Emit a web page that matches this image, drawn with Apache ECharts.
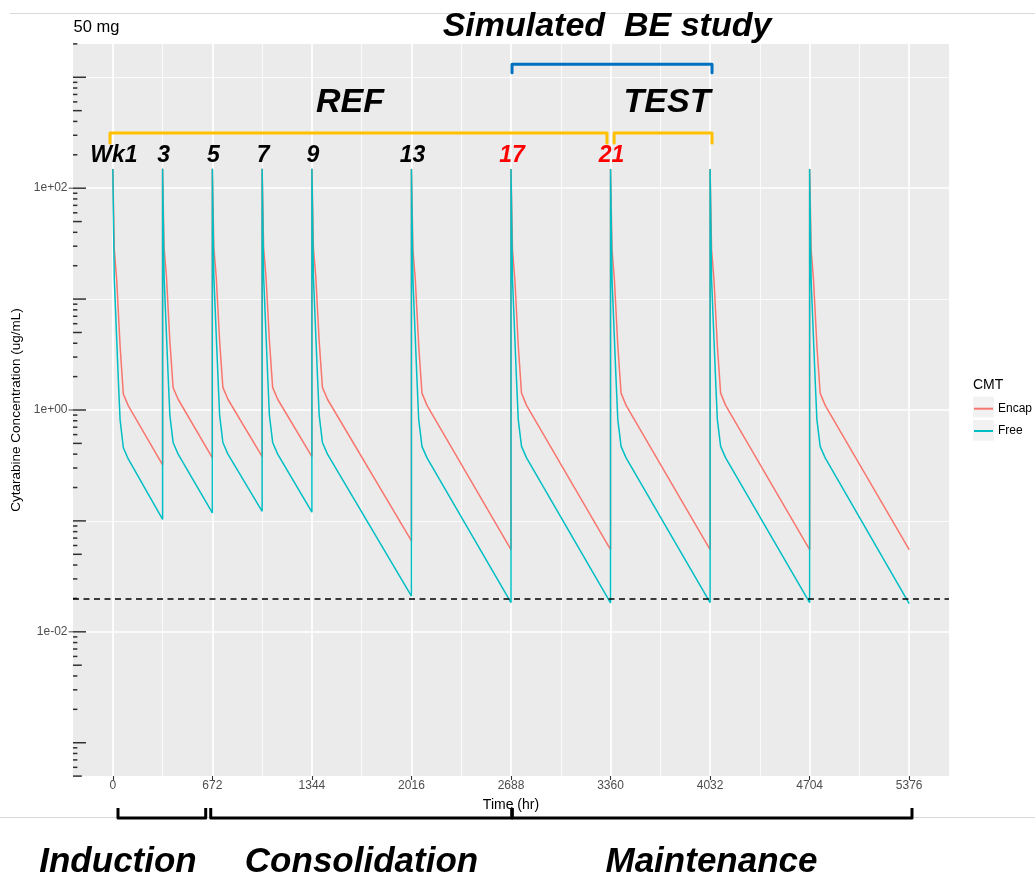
<!DOCTYPE html>
<html><head><meta charset="utf-8">
<script src="https://cdn.jsdelivr.net/npm/echarts@6/dist/echarts.min.js"></script>
<style>html,body{margin:0;padding:0;background:#fff}#c{width:1035px;height:879px}</style>
</head><body><div id="c"></div>
<script>
const FONT = '"Liberation Sans", Arial, Helvetica, sans-serif';

// ---- axes / ticks ----
const xTickLabels = [0, 672, 1344, 2016, 2688, 3360, 4032, 4704, 5376];
const xMinorGrid = [336, 1008, 1680, 2352, 3024, 3696, 4368, 5040];
const xMin = -268.8, xMax = 5644.8;
const yMajorGrid = [0.01, 1, 100];
const yMinorGrid = [0.001, 0.1, 10, 1000];
const logTickDecades = [0.0001, 0.001, 0.01, 0.1, 1, 10, 100, 1000];
const logTickLong = [1];
const logTickMid = [5];
const logTickShort = [2, 3, 4, 6, 7, 8, 9];
const lloq = 0.02;

// ---- week labels (dose times, hr) ----
const weekLabels = ['Wk1', '3', '5', '7', '9', '13', '17', '21'];
const weekTimes = [0, 336, 672, 1008, 1344, 2016, 2688, 3360];
const weekColors = ['#000', '#000', '#000', '#000', '#000', '#000', '#FF0000', '#FF0000'];

// ---- series: Encap ----
const encapTime = [
  0, 10, 26, 49, 71, 105, 336,
  336, 346, 362, 385, 407, 441, 672,
  672, 682, 698, 721, 743, 777, 1008,
  1008, 1018, 1034, 1057, 1079, 1113, 1344,
  1344, 1354, 1370, 1393, 1415, 1449, 2016,
  2016, 2026, 2042, 2065, 2087, 2121, 2688,
  2688, 2698, 2714, 2737, 2759, 2793, 3360,
  3360, 3370, 3386, 3409, 3431, 3465, 4032,
  4032, 4042, 4058, 4081, 4103, 4137, 4704,
  4704, 4714, 4730, 4753, 4775, 4809, 5376];
const encapConc = [
  149, 28, 15, 3.8, 1.39, 1.09, 0.32,
  150, 29, 16, 4.2, 1.59, 1.25, 0.37,
  150, 29, 16, 4.2, 1.6, 1.25, 0.38,
  150, 29, 16, 4.2, 1.6, 1.25, 0.38,
  150, 29, 16, 4.2, 1.6, 1.25, 0.066,
  149, 28, 15, 3.8, 1.42, 1.1, 0.055,
  149, 28, 15, 3.8, 1.42, 1.1, 0.055,
  149, 28, 15, 3.8, 1.42, 1.1, 0.055,
  149, 28, 15, 3.8, 1.42, 1.1, 0.055,
  149, 28, 15, 3.8, 1.42, 1.1, 0.055];

// ---- series: Free ----
const freeTime = [
  0, 10, 37, 49, 71, 105, 336,
  336, 346, 373, 385, 407, 441, 672,
  672, 682, 709, 721, 743, 777, 1008,
  1008, 1018, 1045, 1057, 1079, 1113, 1344,
  1344, 1354, 1381, 1393, 1415, 1449, 2016,
  2016, 2026, 2053, 2065, 2087, 2121, 2688,
  2688, 2698, 2725, 2737, 2759, 2793, 3360,
  3360, 3370, 3397, 3409, 3431, 3465, 4032,
  4032, 4042, 4069, 4081, 4103, 4137, 4704,
  4704, 4714, 4741, 4753, 4775, 4809, 5376];
const freeConc = [
  149, 15, 1.9, 0.82, 0.457, 0.36, 0.103,
  150, 16, 2.1, 0.9, 0.51, 0.4, 0.118,
  150, 16, 2.1, 0.9, 0.51, 0.4, 0.122,
  150, 16, 2.1, 0.9, 0.51, 0.4, 0.12,
  150, 16, 2.1, 0.9, 0.51, 0.4, 0.021,
  149, 15, 1.9, 0.82, 0.47, 0.37, 0.0183,
  149, 15, 1.9, 0.82, 0.47, 0.37, 0.0182,
  149, 15, 1.9, 0.82, 0.47, 0.37, 0.0183,
  149, 15, 1.9, 0.82, 0.47, 0.37, 0.0183,
  149, 15, 1.9, 0.82, 0.47, 0.37, 0.018];

const yMinV = Math.pow(10, -3.3), yMaxV = Math.pow(10, 3.3);

function expLabel(v) {
  const e = Math.log10(v), r = Math.round(e);
  if (Math.abs(e - r) > 1e-6 || r % 2 !== 0) return '';
  return '1e' + (r < 0 ? '-' : '+') + String(Math.abs(r)).padStart(2, '0');
}
function logTicksFor(mants) {
  const out = [];
  logTickDecades.forEach(d => mants.forEach(m => {
    const v = m * d;
    if (v >= yMinV * 0.995 && v <= yMaxV * 1.005) out.push([xMin, v]);
  }));
  return out;
}
const gridLine = (key, v, w) => ({ [key]: v, lineStyle: { color: '#fff', width: w, type: 'solid' } });

const chart = echarts.init(document.getElementById('c'), null, { renderer: 'canvas' });
chart.setOption({
  animation: false,
  backgroundColor: '#fff',
  textStyle: { fontFamily: FONT },
  grid: { left: 73, top: 44, width: 876, height: 732, show: true, backgroundColor: '#EBEBEB', borderWidth: 0, containLabel: false, outerBoundsMode: 'none' },
  xAxis: {
    type: 'value', min: xMin, max: xMax,
    name: 'Time (hr)', nameLocation: 'middle', nameGap: 22,
    nameTextStyle: { fontSize: 14, color: '#000', fontFamily: FONT },
    axisLine: { show: false },
    axisTick: { show: true, customValues: xTickLabels, length: 4, lineStyle: { color: '#333', width: 1.1 } },
    axisLabel: { customValues: xTickLabels, formatter: v => String(v), color: '#4D4D4D', fontSize: 12, margin: 4, fontFamily: FONT },
    splitLine: { show: false }
  },
  yAxis: {
    type: 'log', logBase: 10, min: yMinV, max: yMaxV,
    name: 'Cytarabine Concentration (ug/mL)', nameLocation: 'middle', nameGap: 48,
    nameTextStyle: { fontSize: 13.5, color: '#000', fontFamily: FONT },
    axisLine: { show: false },
    axisTick: { show: false },
    axisLabel: { formatter: expLabel, color: '#4D4D4D', fontSize: 12, margin: 5.5, fontFamily: FONT },
    splitLine: { show: false }
  },
  legend: {
    data: [{ name: 'Encap', icon: 'rect' }, { name: 'Free', icon: 'rect' }],
    orient: 'vertical', left: 974, top: 402.7, padding: 0,
    itemWidth: 19, itemHeight: 2, itemGap: 10.3, selectedMode: false,
    textStyle: { fontSize: 12, color: '#000', fontFamily: FONT }
  },
  series: [
    {
      name: 'gridlines', type: 'line', data: [], z: 1, silent: true,
      markLine: {
        z: 1, silent: true, animation: false, symbol: ['none', 'none'], label: { show: false }, emphasis: { disabled: true },
        data: [
          ...xMinorGrid.map(v => gridLine('xAxis', v, 0.8)),
          ...yMinorGrid.map(v => gridLine('yAxis', v, 0.8)),
          ...xTickLabels.map(v => gridLine('xAxis', v, 1.7)),
          ...yMajorGrid.map(v => gridLine('yAxis', v, 1.7))
        ]
      }
    },
    {
      name: 'Encap', type: 'line', z: 2, symbol: 'none', showSymbol: false,
      data: encapTime.map((t, i) => [t, encapConc[i]]),
      lineStyle: { color: '#F8766D', width: 1.5 }, itemStyle: { color: '#F8766D' },
      emphasis: { disabled: true }
    },
    {
      name: 'Free', type: 'line', z: 3, symbol: 'none', showSymbol: false,
      data: freeTime.map((t, i) => [t, freeConc[i]]),
      lineStyle: { color: '#00BFC4', width: 1.5 }, itemStyle: { color: '#00BFC4' },
      emphasis: { disabled: true }
    },
    {
      name: 'lloq', type: 'line', data: [], z: 4, silent: true,
      markLine: {
        z: 6, silent: true, animation: false, symbol: ['none', 'none'], label: { show: false }, emphasis: { disabled: true },
        lineStyle: { color: '#000', type: [6, 4.5], width: 1.6 },
        data: [{ yAxis: lloq }]
      }
    },
    { name: 'ltLong', type: 'scatter', data: logTicksFor(logTickLong), symbol: 'rect', symbolSize: [13, 1.5], symbolOffset: [6.5, 0], itemStyle: { color: '#000' }, clip: false, silent: true, z: 5 },
    { name: 'ltMid', type: 'scatter', data: logTicksFor(logTickMid), symbol: 'rect', symbolSize: [8.8, 1.5], symbolOffset: [4.4, 0], itemStyle: { color: '#000' }, clip: false, silent: true, z: 5 },
    { name: 'ltShort', type: 'scatter', data: logTicksFor(logTickShort), symbol: 'rect', symbolSize: [4.4, 1.5], symbolOffset: [2.2, 0], itemStyle: { color: '#000' }, clip: false, silent: true, z: 5 },
    { name: 'yTicks', type: 'scatter', data: yMajorGrid.map(v => [xMin, v]), symbol: 'rect', symbolSize: [4.4, 1.1], symbolOffset: [-2.2, 0], itemStyle: { color: '#333' }, clip: false, silent: true, z: 5 }
  ]
});

// ---- annotations ----
const px = t => chart.convertToPixel({ xAxisIndex: 0 }, t);
const BI = (size) => ({ fontStyle: 'italic', fontWeight: 'bold', fontSize: size, fontFamily: FONT });
const bracketUp = (t1, t2, yTop, drop, color) => ({
  type: 'polyline', z: 10,
  shape: { points: [[px(t1), yTop + drop], [px(t1), yTop], [px(t2), yTop], [px(t2), yTop + drop]] },
  style: { stroke: color, lineWidth: 3, fill: null, lineJoin: 'round', lineCap: 'round' }
});
const bracketDown = (t1, t2, yBot, rise, color) => ({
  type: 'polyline', z: 10,
  shape: { points: [[px(t1), yBot - rise], [px(t1), yBot], [px(t2), yBot], [px(t2), yBot - rise]] },
  style: { stroke: color, lineWidth: 3, fill: null, lineJoin: 'round', lineCap: 'butt' }
});
const txt = (s, x, y, size, color) => ({
  type: 'text', z: 11,
  style: Object.assign({ text: s, x: x, y: y, fill: color, align: 'center', verticalAlign: 'middle' }, BI(size))
});

const els = [
  { type: 'line', z: 1, shape: { x1: 10, y1: 13.5, x2: 1035, y2: 13.5 }, style: { stroke: '#D9D9D9', lineWidth: 1 } },
  { type: 'line', z: 1, shape: { x1: 0, y1: 817.5, x2: 1035, y2: 817.5 }, style: { stroke: '#D9D9D9', lineWidth: 1 } },
  { type: 'rect', z: 1, shape: { x: 973, y: 396.7, width: 21, height: 20.7 }, style: { fill: '#F2F2F2' } },
  { type: 'rect', z: 1, shape: { x: 973, y: 420, width: 21, height: 20.7 }, style: { fill: '#F2F2F2' } },
  { type: 'text', z: 11, style: { text: 'CMT', x: 973, y: 385, fill: '#000', fontSize: 14, fontFamily: FONT, align: 'left', verticalAlign: 'middle' } },
  { type: 'text', z: 11, style: { text: '50 mg', x: 73.5, y: 27.5, fill: '#000', fontSize: 16.5, fontFamily: FONT, align: 'left', verticalAlign: 'middle' } },
  bracketUp(-19, 3336, 133, 10, '#FFC000'),
  bracketUp(3384, 4045, 133, 10, '#FFC000'),
  bracketUp(2695, 4045, 64.3, 8.5, '#0070C0'),
  bracketDown(35, 627, 818, 10, '#000'),
  bracketDown(661, 2693, 818, 10, '#000'),
  bracketDown(2697, 5395, 818, 10, '#000'),
  txt('Simulated  BE study', 607, 27, 34, '#000'),
  txt('REF', 350, 103, 34, '#000'),
  txt('TEST', 667, 102.5, 34, '#000'),
  txt('Induction', 118, 862, 35, '#000'),
  txt('Consolidation', 361.5, 862, 35, '#000'),
  txt('Maintenance', 711.5, 862, 35, '#000')
];
weekTimes.forEach((t, i) => els.push(txt(weekLabels[i], px(t) + 1, 156, 23, weekColors[i])));
chart.setOption({ graphic: { elements: els } });
</script>
</body></html>
